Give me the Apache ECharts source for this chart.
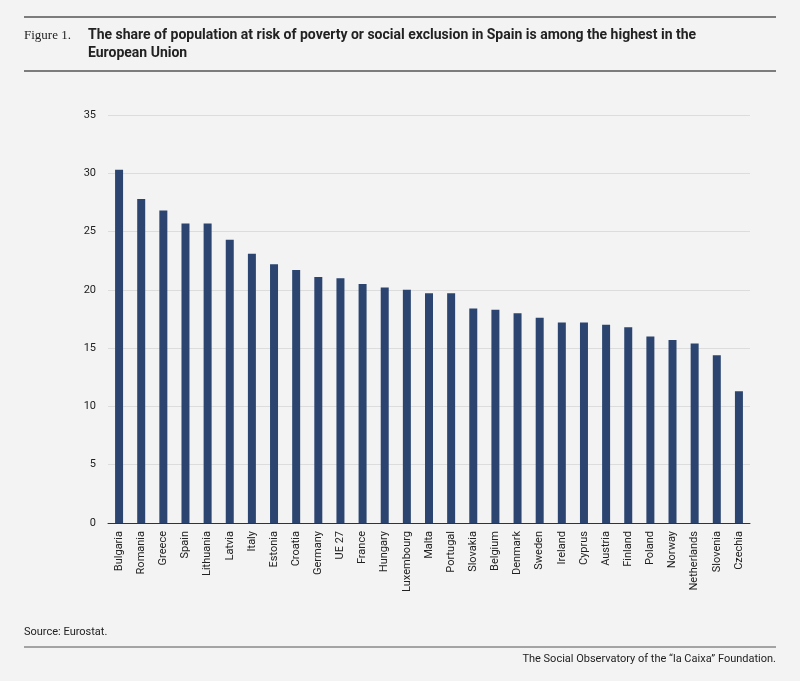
<!DOCTYPE html>
<html><head><meta charset="utf-8">
<script src="https://cdn.jsdelivr.net/npm/echarts@6/dist/echarts.min.js"></script>
<style>body{margin:0;background:#f3f3f3}#c{width:800px;height:681px}</style>
</head><body><div id="c"></div>
<script>
var countries = ['Bulgaria','Romania','Greece','Spain','Lithuania','Latvia','Italy','Estonia','Croatia','Germany','UE 27','France','Hungary','Luxembourg','Malta','Portugal','Slovakia','Belgium','Denmark','Sweden','Ireland','Cyprus','Austria','Finland','Poland','Norway','Netherlands','Slovenia','Czechia'];
var values = [30.3,27.8,26.8,25.7,25.7,24.3,23.1,22.2,21.7,21.1,21.0,20.5,20.2,20.0,19.7,19.7,18.4,18.3,18.0,17.6,17.2,17.2,17.0,16.8,16.0,15.7,15.4,14.4,11.3];

var chart = echarts.init(document.getElementById('c'));
chart.setOption({
  backgroundColor: '#f3f3f3',
  animation: false,
  grid: { left: 108, right: 50, top: 115, bottom: 158 },
  xAxis: {
    type: 'category',
    data: countries,
    axisLine: { lineStyle: { color: '#333' } },
    axisTick: { show: false },
    axisLabel: { rotate: 90, color: '#222', fontSize: 11, fontFamily: 'Roboto', interval: 0 }
  },
  yAxis: {
    type: 'value', min: 0, max: 35, interval: 5,
    axisLabel: { color: '#222', fontSize: 11, fontFamily: 'Roboto', margin: 12 },
    splitLine: { lineStyle: { color: '#dcdcdc' } }
  },
  series: [{ type: 'bar', data: values, barWidth: 8, itemStyle: { color: '#2b4570' } }],
  graphic: [
    { type: 'line', shape: { x1: 24, y1: 17, x2: 776, y2: 17 }, style: { stroke: '#555', lineWidth: 1.5 } },
    { type: 'text', left: 24, top: 29, style: { text: 'Figure 1.', font: '13px "Liberation Serif"', fill: '#222' } },
    { type: 'text', left: 88, top: 26, style: { text: 'The share of population at risk of poverty or social exclusion in Spain is among the highest in the\nEuropean Union', font: 'bold 14px Roboto', fill: '#222', lineHeight: 18 } },
    { type: 'line', shape: { x1: 24, y1: 71, x2: 776, y2: 71 }, style: { stroke: '#555', lineWidth: 1.5 } },
    { type: 'text', left: 24, top: 627, style: { text: 'Source: Eurostat.', font: '11px Roboto', fill: '#222' } },
    { type: 'line', shape: { x1: 24, y1: 647, x2: 776, y2: 647 }, style: { stroke: '#555', lineWidth: 1 } },
    { type: 'text', right: 24, top: 654, style: { text: 'The Social Observatory of the “la Caixa” Foundation.', font: '11px Roboto', fill: '#222' } }
  ]
});
</script></body></html>
